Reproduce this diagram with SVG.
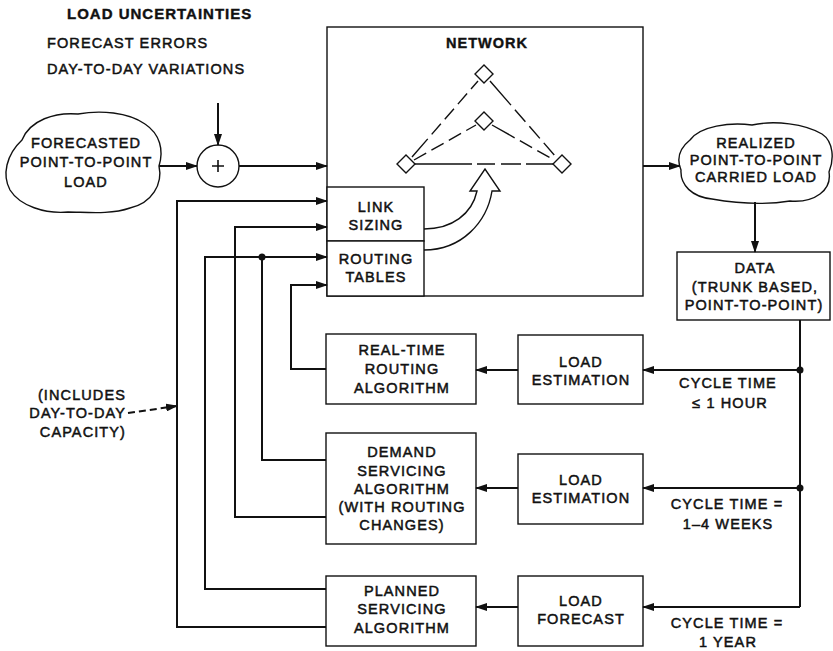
<svg xmlns="http://www.w3.org/2000/svg" width="833" height="651" viewBox="0 0 833 651">
  <style>
    text { font-family: "Liberation Sans", Arial, sans-serif; font-size: 14.5px; letter-spacing: 1.1px; fill: #111; stroke: #111; stroke-width: 0.5px; }
    .title { font-size: 15px; font-weight: bold; letter-spacing: 1px; stroke-width: 0.4px; }
    .mid { text-anchor: middle; }
    .box { fill: #fff; stroke: #111; stroke-width: 1.4; }
    .cloud { fill: #fff; stroke: #111; stroke-width: 1.4; }
    .wire { fill: none; stroke: #111; stroke-width: 2; }
    .arrow { fill: none; stroke: #111; stroke-width: 2; marker-end: url(#head); }
    .link { fill: none; stroke: #111; stroke-width: 1.4; }
    .dot { fill: #111; }
  </style>
  <defs>
    <marker id="head" markerUnits="userSpaceOnUse" markerWidth="12" markerHeight="8" refX="11" refY="4" orient="auto">
      <path d="M0,0 L12,4 L0,8 z" fill="#111"/>
    </marker>
  </defs>

  <!-- load uncertainty notes -->
  <g id="uncertainties">
    <text class="title" x="67" y="19">LOAD UNCERTAINTIES</text>
    <text x="47" y="48">FORECAST ERRORS</text>
    <text x="47" y="74">DAY-TO-DAY VARIATIONS</text>
  </g>

  <!-- forecasted load cloud -->
  <g id="forecasted-load">
    <path class="cloud" d="M22 140 C30 120 55 112 78 114 C100 110 128 112 145 124 C160 134 164 150 159 166 C163 184 152 203 130 208 C110 215 85 212 68 212 C45 214 20 206 10 190 C2 175 6 155 22 140 Z"/>
    <text class="mid" x="86" y="148">FORECASTED</text>
    <text class="mid" x="86" y="167">POINT-TO-POINT</text>
    <text class="mid" x="86" y="187">LOAD</text>
  </g>

  <!-- summing junction -->
  <g id="sum">
    <circle cx="218" cy="166" r="21" fill="#fff" stroke="#111" stroke-width="1.4"/>
    <path d="M212 166 H224 M218 160 V172" stroke="#111" stroke-width="1.6"/>
  </g>

  <!-- network -->
  <g id="network">
    <rect class="box" x="327" y="27" width="316" height="269"/>
    <text class="title mid" x="487" y="48" style="font-size:14.5px">NETWORK</text>
    <g id="network-graph">
      <path class="link" d="M412 157 L478 81" stroke-dasharray="24 6 14 6 14 6 14 6"/>
      <path class="link" d="M490 81 L556 157" stroke-dasharray="32 6 16 6 16 6 16"/>
      <path class="link" d="M414 160 L476 125" stroke-dasharray="14 6"/>
      <path class="link" d="M492 125 L554 160" stroke-dasharray="26 6 14 6 14"/>
      <path class="link" d="M415 164 H472 M477 164 H495 M501 164 H521 M526 164 H553"/>
      <polygon class="box" points="484,65 493,74 484,83 475,74"/>
      <polygon class="box" points="484,112 493,121 484,130 475,121"/>
      <polygon class="box" points="406,155 415,164 406,173 397,164"/>
      <polygon class="box" points="562,155 571,164 562,173 553,164"/>
    </g>
    <!-- broad arrow from the control tables up to the graph -->
    <path class="box" d="M424 229 C452 229 472 214 477 191 L470 191 L485 169 L500 191 L492 191 C487 222 462 250 424 250"/>
  </g>

  <g id="link-sizing">
    <rect class="box" x="327" y="187" width="97" height="54"/>
    <text class="mid" x="376" y="212">LINK</text>
    <text class="mid" x="376" y="230">SIZING</text>
  </g>

  <g id="routing-tables">
    <rect class="box" x="327" y="241" width="97" height="55"/>
    <text class="mid" x="376" y="264">ROUTING</text>
    <text class="mid" x="376" y="282">TABLES</text>
  </g>

  <!-- realized load cloud -->
  <g id="realized-load">
    <path class="cloud" d="M690 140 C700 126 730 122 752 125 C775 120 805 124 822 134 C834 142 834 160 829 172 C832 190 815 203 790 201 C765 205 735 203 712 199 C692 197 680 185 681 170 C676 158 680 148 690 140 Z"/>
    <text class="mid" x="756" y="148">REALIZED</text>
    <text class="mid" x="756" y="165">POINT-TO-POINT</text>
    <text class="mid" x="756" y="182">CARRIED LOAD</text>
  </g>

  <g id="data">
    <rect class="box" x="677" y="252" width="153" height="68"/>
    <text class="mid" x="755" y="273">DATA</text>
    <text class="mid" x="755" y="292">(TRUNK BASED,</text>
    <text class="mid" x="754" y="310">POINT-TO-POINT)</text>
  </g>

  <g id="real-time-routing">
    <rect class="box" x="326" y="334" width="150" height="70"/>
    <text class="mid" x="402" y="355">REAL-TIME</text>
    <text class="mid" x="402" y="374">ROUTING</text>
    <text class="mid" x="402" y="393">ALGORITHM</text>
  </g>

  <g id="demand-servicing">
    <rect class="box" x="326" y="433" width="150" height="111"/>
    <text class="mid" x="402" y="457">DEMAND</text>
    <text class="mid" x="402" y="476">SERVICING</text>
    <text class="mid" x="402" y="494">ALGORITHM</text>
    <text class="mid" x="402" y="512">(WITH ROUTING</text>
    <text class="mid" x="402" y="530">CHANGES)</text>
  </g>

  <g id="planned-servicing">
    <rect class="box" x="326" y="576" width="150" height="70"/>
    <text class="mid" x="402" y="596">PLANNED</text>
    <text class="mid" x="402" y="614">SERVICING</text>
    <text class="mid" x="402" y="633">ALGORITHM</text>
  </g>

  <g id="load-estimation-hourly">
    <rect class="box" x="518" y="335" width="125" height="69"/>
    <text class="mid" x="581" y="367">LOAD</text>
    <text class="mid" x="581" y="385">ESTIMATION</text>
  </g>

  <g id="load-estimation-weekly">
    <rect class="box" x="518" y="454" width="125" height="70"/>
    <text class="mid" x="581" y="485">LOAD</text>
    <text class="mid" x="581" y="503">ESTIMATION</text>
  </g>

  <g id="load-forecast">
    <rect class="box" x="518" y="576" width="125" height="70"/>
    <text class="mid" x="581" y="606">LOAD</text>
    <text class="mid" x="581" y="624">FORECAST</text>
  </g>

  <!-- cycle time labels -->
  <g id="cycle-labels">
    <text class="mid" x="728" y="388">CYCLE TIME</text>
    <text class="mid" x="730" y="408">≤ 1 HOUR</text>
    <text class="mid" x="727" y="509">CYCLE TIME =</text>
    <text class="mid" x="728" y="529">1–4 WEEKS</text>
    <text class="mid" x="727" y="628">CYCLE TIME =</text>
    <text class="mid" x="728" y="647">1 YEAR</text>
  </g>

  <g id="capacity-note">
    <text x="126" y="400" style="text-anchor:end">(INCLUDES</text>
    <text x="126" y="418" style="text-anchor:end">DAY-TO-DAY</text>
    <text x="126" y="437" style="text-anchor:end">CAPACITY)</text>
  </g>

  <!-- connectors -->
  <g id="connectors">
    <path class="arrow" d="M218 103 V145"/>
    <path class="arrow" d="M159 166 H197"/>
    <path class="arrow" d="M239 166 H327"/>
    <path class="arrow" d="M643 166 H680"/>
    <path class="arrow" d="M755 202 V252"/>

    <!-- feedback from data through the estimators -->
    <path class="wire" d="M800 320 V607"/>
    <path class="arrow" d="M800 370 H643"/>
    <path class="arrow" d="M800 488 H643"/>
    <path class="arrow" d="M800 607 H643"/>
    <path class="arrow" d="M518 370 H476"/>
    <path class="arrow" d="M518 488 H476"/>
    <path class="arrow" d="M518 607 H476"/>

    <!-- algorithm outputs back into the network controls -->
    <path class="arrow" d="M326 369 H291 V285 H327"/>
    <path class="wire" d="M326 460 H262 V257"/>
    <path class="arrow" d="M326 517 H235 V227 H327"/>
    <path class="arrow" d="M326 589 H205 V257 H327"/>
    <path class="arrow" d="M326 627 H177 V201 H327"/>
    <path class="arrow" d="M128 413 L177 406" stroke-width="1.4" stroke-dasharray="7 4"/>

    <circle class="dot" cx="262" cy="257" r="3.5"/>
    <circle class="dot" cx="800" cy="370" r="3.5"/>
    <circle class="dot" cx="800" cy="488" r="3.5"/>
  </g>
</svg>
